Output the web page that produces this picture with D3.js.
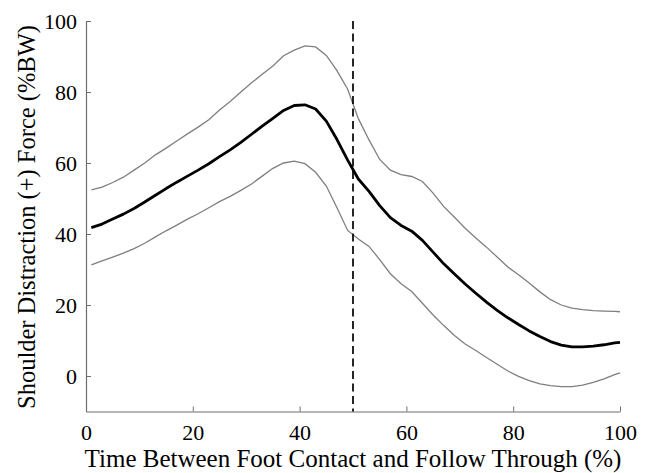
<!DOCTYPE html>
<html>
<head>
<meta charset="utf-8">
<script src="https://cdn.jsdelivr.net/npm/d3@7"></script>
<style>
  html, body { margin: 0; padding: 0; background: #fff; }
  svg { display: block; }
  text { font-family: "Liberation Serif", "Times New Roman", serif; fill: #000; }
</style>
</head>
<body>
<svg id="chart" width="652" height="473"></svg>
<script>
// ---- Data ----
const timePct = [1,3,5,7,9,11,13,15,17,19,21,23,25,27,29,31,33,35,37,39,41,43,45,47,49,51,53,55,57,59,61,63,65,67,69,71,73,75,77,79,81,83,85,87,89,91,93,95,97,99,100];
const meanForce = [41.8,42.8,44.2,45.6,47.2,49.0,50.9,52.8,54.6,56.3,58.0,59.8,61.8,63.7,65.8,68.1,70.4,72.6,74.8,76.2,76.4,75.2,71.8,66.6,60.8,55.5,52.0,48.0,44.6,42.4,40.8,38.2,34.9,31.6,28.7,25.9,23.3,20.8,18.5,16.4,14.5,12.7,11.1,9.7,8.7,8.2,8.2,8.4,8.8,9.3,9.5];
const upperForce = [52.4,53.2,54.5,56.0,58.0,60.0,62.3,64.2,66.2,68.2,70.1,72.2,74.9,77.3,80.0,82.6,85.0,87.3,90.2,91.8,93.0,92.7,90.3,86.0,80.8,72.5,66.5,61.0,58.0,56.7,56.2,54.8,51.5,47.7,44.7,41.6,38.9,36.3,33.5,30.7,28.5,26.2,23.7,21.5,20.0,19.1,18.7,18.4,18.3,18.2,18.1];
const lowerForce = [31.3,32.4,33.5,34.6,35.9,37.4,39.2,40.9,42.5,44.2,45.7,47.4,49.1,50.6,52.3,54.1,56.3,58.5,60.0,60.5,59.8,57.4,53.5,47.4,41.0,38.6,36.5,32.8,28.8,26.0,23.8,20.5,17.2,14.2,11.4,9.0,7.2,5.2,3.3,1.4,-0.1,-1.3,-2.2,-2.7,-3.0,-3.0,-2.6,-1.8,-0.8,0.4,0.9];
const xTicks = [0,20,40,60,80,100];
const yTicks = [0,20,40,60,80,100];
const eventX = [50];
const xLabel = "Time Between Foot Contact and Follow Through (%)";
const yLabel = "Shoulder Distraction (+) Force (%BW)";

// ---- Layout ----
const svg = d3.select("#chart");
const mLeft = 86, mRight = 620, mTop = 21, mBottom = 411.5;
const x = d3.scaleLinear().domain([0, 100]).range([mLeft, mRight]);
const y = d3.scaleLinear().domain([-10, 100]).range([mBottom, mTop]);

const axisColor = "#6e6e6e";

// Axes (ticks inward)
const xAxis = svg.append("g").attr("transform", `translate(0,${mBottom})`)
  .call(d3.axisBottom(x).tickValues(xTicks).tickSizeInner(-5).tickSizeOuter(0).tickPadding(13));
const yAxis = svg.append("g").attr("transform", `translate(${mLeft},0)`)
  .call(d3.axisLeft(y).tickValues(yTicks).tickSizeInner(-5).tickSizeOuter(0).tickPadding(9));
[xAxis, yAxis].forEach(a => {
  a.select(".domain").attr("stroke", axisColor).attr("stroke-width", 1.2);
  a.selectAll(".tick line").attr("stroke", axisColor).attr("stroke-width", 1);
  a.selectAll(".tick text").attr("font-size", 22).attr("font-family", "Liberation Serif, serif").attr("fill", "#000");
});

// Series
const lineGen = vals => d3.line().x((d, i) => x(timePct[i])).y(d => y(d))(vals);
svg.append("path").attr("d", lineGen(upperForce)).attr("fill", "none").attr("stroke", "#7f7f7f").attr("stroke-width", 1.3);
svg.append("path").attr("d", lineGen(lowerForce)).attr("fill", "none").attr("stroke", "#7f7f7f").attr("stroke-width", 1.3);
svg.append("path").attr("d", lineGen(meanForce)).attr("fill", "none").attr("stroke", "#000").attr("stroke-width", 2.8).attr("stroke-linejoin", "round");

// Event line
svg.selectAll(".event").data(eventX).enter().append("line")
  .attr("x1", d => x(d)).attr("x2", d => x(d))
  .attr("y1", y(100)).attr("y2", mBottom)
  .attr("stroke", "#000").attr("stroke-width", 1.7).attr("stroke-dasharray", "8,4.5");

// Labels
svg.append("text").attr("x", 353).attr("y", 467)
  .attr("text-anchor", "middle").attr("font-size", 25).text(xLabel);
svg.append("text").attr("transform", `translate(35,217) rotate(-90)`)
  .attr("text-anchor", "middle").attr("font-size", 24.5).text(yLabel);
</script>
</body>
</html>
